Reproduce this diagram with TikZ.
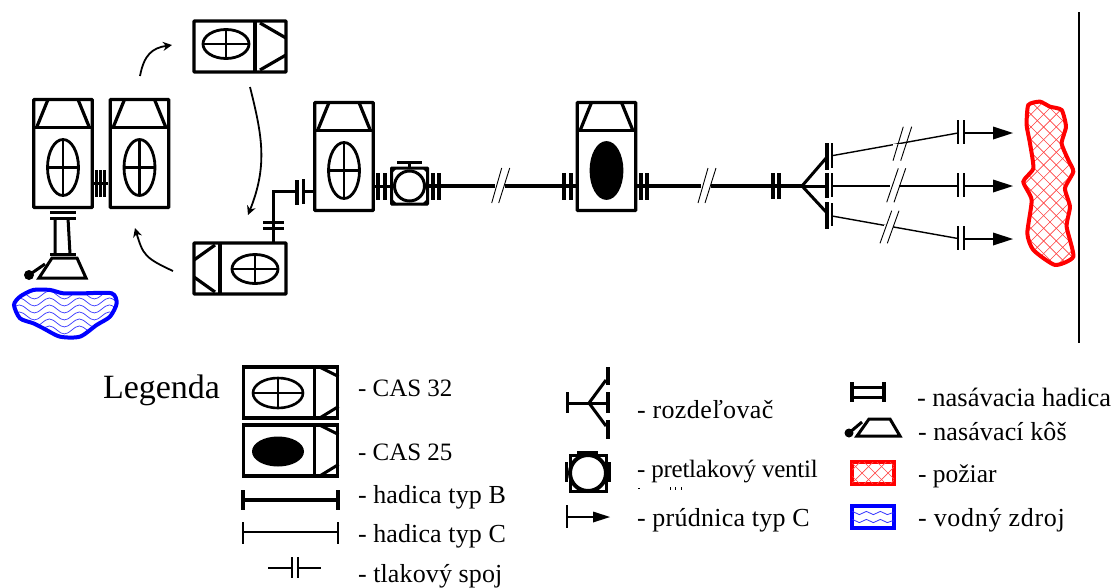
\documentclass[tikz,border=0pt]{standalone}
\usepackage{fontspec}
\setmainfont{Liberation Serif}
\usetikzlibrary{arrows.meta,decorations.pathmorphing}
\definecolor{pureblue}{RGB}{0,0,255}
\definecolor{purered}{RGB}{255,0,0}
\newcommand{\lsp}[1]{\addfontfeatures{LetterSpace=#1}}
\newcommand{\fsz}[1]{\fontsize{#1}{#1}\selectfont}
\tikzset{
  heavy/.style={line width=3.7pt},
  medium/.style={line width=3pt},
  fine/.style={line width=1.4pt},
  vbox/.style={draw,line width=3.2pt,rounded corners=.6pt,minimum width=58.5pt,minimum height=108pt,inner sep=0pt,outer sep=0pt},
  hbox/.style={draw,line width=3.2pt,rounded corners=.6pt,minimum width=92pt,minimum height=51pt,inner sep=0pt,outer sep=0pt},
  lbox/.style={draw,line width=3.6pt,minimum width=94pt,minimum height=51pt,inner sep=0pt,outer sep=0pt},
  lbl/.style={anchor=base west,inner sep=0pt,outer sep=0pt,font=\fontsize{25}{28}\selectfont},
  flow/.style={line width=1.8pt,-{Stealth[length=9pt,width=9pt]}},
  nozzle/.style={fill=black,draw=none},
  point/.style={inner sep=0pt,minimum size=0pt}
}
% vertical truck detail: #1 node, #2 ellipse fill
\newcommand{\truckV}[2]{%
  \begin{scope}[shift={(#1.center)}]
    \draw[line width=3.2pt] (-29.5,-26) -- (29.5,-26);
    \draw[line width=3.2pt] (-26,-27) -- (-15,-54);
    \draw[line width=3.2pt] (26,-27) -- (15,-54);
    \filldraw[line width=2.8pt,fill=#2] (0,14) ellipse (15.5pt and 28pt);
    \draw[line width=2.6pt] (-15,14) -- (15,14) (0,-14) -- (0,42);
  \end{scope}}
% horizontal truck detail: #1 node, #2 direction (1 cab right, -1 cab left), #3 divider, #4 ellipse x, #5 half height, #6 ellipse y
\newcommand{\truckH}[6]{%
  \begin{scope}[shift={(#1.center)},xscale=#2]
    \draw[line width=3.2pt] (#3,-#5) -- (#3,#5);
    \draw[line width=3.2pt] (#3+5,-#5+2) -- (46,-#5+17);
    \draw[line width=3.2pt] (#3+5,#5-2) -- (46,#5-17);
    \draw[line width=2.8pt] (#4,#6) ellipse (23pt and 14.5pt);
    \draw[line width=2.6pt] (#4-23,#6) -- (#4+23,#6) (#4,#6-14.5) -- (#4,#6+14.5);
  \end{scope}}
\begin{document}
\begin{tikzpicture}[x=1pt,y=-1pt]
\useasboundingbox[fill=white] (0,0) rectangle (1115,587);

% water source
\begin{scope}[shift={(0,0)},x=0.3333pt,y=-0.3333pt]
  \def\blobW{plot[smooth cycle,tension=.45] coordinates {(42,915) (60,890) (100,870) (150,870) (190,880) (250,880) (335,880) (350,910) (330,950) (290,975) (240,1010) (180,1010) (130,985) (100,970) (60,955)}}
  \begin{scope}
    \clip \blobW;
    \foreach \yy in {885,906,...,1010}
      \draw[pureblue!80,line width=.7pt,decorate,decoration={snake,segment length=30,amplitude=4}] (30,\yy) -- (360,\yy);
  \end{scope}
  \draw[pureblue,line width=4pt] \blobW;
\end{scope}

% fire
\begin{scope}[shift={(740,0)},x=0.3333pt,y=-0.3333pt]
  \def\blobF{plot[smooth cycle,tension=.35] coordinates {(865,315) (900,305) (930,320) (965,330) (978,380) (965,430) (985,480) (1000,515) (975,565) (990,620) (980,680) (1000,770) (945,795) (880,750) (862,700) (875,600) (850,545) (880,505) (870,430) (860,375)}}
  \begin{scope}
    \clip \blobF;
    \foreach \k in {0,38,...,1000} {
      \draw[purered!75,line width=.6pt] (820,300+\k-200) -- (1040,520+\k-200);
      \draw[purered!75,line width=.6pt] (1040,300+\k-200) -- (820,520+\k-200);
    }
  \end{scope}
  \draw[purered,line width=4pt] \blobF;
\end{scope}

% trucks
\node[vbox] (t1) at (63,153.5) {};
\node[vbox] (t2) at (139.5,153.5) {};
\node[hbox] (t3) at (240,46.5) {};
\node[hbox] (t4) at (240,268.5) {};
\node[vbox] (t5) at (344,156.5) {};
\node[vbox] (t6) at (606.5,156.5) {};
\truckV{t1}{white}
\truckV{t2}{white}
\truckV{t5}{white}
\truckV{t6}{black}
\truckH{t3}{1}{15}{-14}{25.5}{-2.5}
\truckH{t4}{-1}{20}{-15}{25.5}{0.5}

% curved moves
\coordinate (m1a) at (140,76); \coordinate (m1b) at (172,45);
\coordinate (m2a) at (250,87); \coordinate (m2b) at (248,215);
\coordinate (m3a) at (173,271); \coordinate (m3b) at (135,228);
\draw[flow] (m1a) .. controls (144,55) and (152,48) .. (m1b);
\draw[flow] (m2a) .. controls (262,135) and (268,165) .. (m2b);
\draw[flow] (m3a) .. controls (145,258) and (143,255) .. (m3b);

% t1-t2 coupling
\coordinate (c12) at (100,183);
\draw[medium] (93,183) -- (108,183);
\draw[medium] (96.5,170) -- (96.5,197) (100.5,170) -- (100.5,197) (104.5,170) -- (104.5,197);

% suction hose and basket
\coordinate (s1) at (63,218); \coordinate (s2) at (63,254);
\draw[medium] (50,212) -- (76,212);
\draw[medium] (50,218) -- (76,218);
\draw[medium] (55,218) -- (55,254) (68,218) -- (70,254);
\draw[medium] (50,254) -- (76,254);
\draw[medium] (52,258) -- (77,258) -- (86,278) -- (39,278) -- cycle;
\fill (29,275) circle (5pt);
\draw[medium] (29,275) -- (45,264);

% feed from t4 to t5
\coordinate (f1) at (273,191);
\coordinate (f2) at (297,191);
\draw[medium] (t4.north -| f1) -- (f1) -- (f2);
\draw[heavy] (297,180) -- (297,205);
\draw[medium] (263,222) -- (284,222) (263,228) -- (284,228);
\coordinate (f3) at (303,191);
\draw[medium] (f3) -- (t5.west |- f3);
\draw[medium] (303,179) -- (303,204);

% main line
\coordinate (v1) at (378,186);
\draw[medium] (t5.east |- v1) -- (391,186);
\draw[heavy] (378,173) -- (378,200) (385,173) -- (385,200);
\node[draw,line width=3pt,minimum width=36pt,minimum height=36pt,inner sep=0pt,outer sep=0pt,rounded corners=.5pt] (valve) at (409.5,186) {};
\draw[line width=3pt,fill=white] (valve.center) circle (15pt);
\fill (391,167) -- (398,167) -- (391,174) -- cycle (428,167) -- (421,167) -- (428,174) -- cycle (391,205) -- (398,205) -- (391,198) -- cycle (428,205) -- (421,205) -- (428,198) -- cycle;
\draw[medium] (397,162) -- (422,162) (409.5,162) -- (valve.north);
\draw[heavy] (433,173) -- (433,200) (439,173) -- (439,200);
\draw[heavy] (valve.east) -- (t6.west |- valve.east);
\draw[heavy] (564,173) -- (564,200) (571,173) -- (571,200);
\draw[heavy] (641,173) -- (641,200) (647,173) -- (647,200);
\coordinate (sp) at (802,186);
\draw[heavy] (t6.east |- sp) -- (sp);
\draw[heavy] (773,173) -- (773,199) (779,173) -- (779,199);

% hose breaks
\foreach \x/\y in {501.7/186,708/186} {
  \fill[white] (\x-7,\y-2.5) rectangle (\x+3,\y+2.5);
  \draw[line width=.9pt] (\x+0,\y-18) -- (\x-10,\y+17) (\x+8,\y-18) -- (\x-3,\y+17);
}

% splitter
\coordinate (bt) at (827,157); \coordinate (bm) at (827,186); \coordinate (bb) at (827,213);
\draw[medium] (sp) -- (bm);
\draw[medium] (sp) -- (bt);
\draw[medium] (sp) -- (bb);
\draw[heavy] (827,143) -- (827,170) (827,173) -- (827,198) (827,202) -- (827,229);
\draw[fine] (832,143) -- (832,168) (832,173) -- (832,197) (832,203) -- (832,226);

% C hoses, couplings, nozzles
\coordinate (h1) at (832,155.7); \coordinate (n1) at (958,133);
\coordinate (h2) at (832,186);   \coordinate (n2) at (958,186);
\coordinate (h3) at (832,216);   \coordinate (n3) at (958,238.5);
\draw[fine] (h1) -- (n1);
\draw[fine] (h2) -- (n2);
\draw[fine] (h3) -- (n3);
\foreach \xa/\ya/\xb/\yb/\xc/\yc/\xd/\yd/\gx/\gy in {
  903.3/126.7/893/160.7/911.7/126.7/900.7/160.7/899/145.5,
  898.3/168.3/886.7/202.3/905.7/168.3/894/202.3/896/186,
  891.7/210.7/880/243.3/899/210.7/887.3/243.3/889.5/227} {
  \fill[white] (\gx-6,\gy-2) rectangle (\gx+3,\gy+2);
  \draw[line width=.9pt] (\xa,\ya) -- (\xb,\yb) (\xc,\yc) -- (\xd,\yd);
}
\foreach \yy/\nm in {133/a,186/b,239/c} {
  \draw[fine] (958,\yy-13) -- (958,\yy+11) (964,\yy-13) -- (964,\yy+11);
  \coordinate (tip\nm) at (1013,\yy);
  \draw[fine] (964,\yy) -- (994,\yy);
  \fill[nozzle] (993,\yy-6.5) -- (tip\nm) -- (993,\yy+6.5) -- cycle;
}

% wall
\coordinate (w1) at (1079,12); \coordinate (w2) at (1079,343);
\draw[line width=1.6pt] (w1) -- (w2);

% legend left
\node[lbl,font=\fontsize{34}{37}\selectfont] (lg) at (103,398) {Legenda};
\node[lbox] (k1) at (290.5,392.5) {};
\node[lbox] (k2) at (290.5,450.5) {};
\begin{scope}[shift={(k1.center)}]
  \draw[line width=3pt] (24,-26) -- (24,26);
  \draw[line width=3pt] (30,-25) -- (48,-16) (30,25) -- (48,14);
  \draw[line width=2.6pt] (-12.5,0.5) ellipse (25pt and 15pt);
  \draw[line width=2.6pt] (-37.5,.5) -- (12.5,.5) (-12.5,-14.5) -- (-12.5,15.5);
\end{scope}
\begin{scope}[shift={(k2.center)}]
  \draw[line width=3pt] (24,-26) -- (24,26);
  \draw[line width=3pt] (30,-25) -- (48,-16) (30,25) -- (48,14);
  \fill (-12.5,1) ellipse (26pt and 15pt);
\end{scope}
\node[lbl] (ta) at (358,396) {- CAS 32};
\node[lbl] (tb) at (358,460) {- CAS 25};
\coordinate (ba) at (243,500); \coordinate (bz) at (338,500);
\draw[heavy] (ba) -- (bz);
\draw[heavy] (243,490) -- (243,510) (338,490) -- (338,510);
\node[lbl] (tc) at (358,503) {\fsz{26}\lsp{.5}- hadica typ B};
\coordinate (ca) at (243,532); \coordinate (cz) at (338,532);
\draw[fine] (ca) -- (cz);
\draw[fine] (243,522) -- (243,544) (338,522) -- (338,544);
\node[lbl] (td) at (358,542) {\fsz{26}\lsp{.5}- hadica typ C};
\coordinate (da) at (268,568); \coordinate (db) at (292,568);
\coordinate (dc) at (298,568); \coordinate (dd) at (321,568);
\draw[fine] (da) -- (db) (292,557) -- (292,578);
\draw[fine] (dc) -- (dd) (298,557) -- (298,578);
\node[lbl] (te) at (358,582) {\fsz{26}\lsp{.5}- tlakový spoj};

% legend middle
\coordinate (ks) at (567,403); \coordinate (kn) at (589,403);
\draw[medium] (567,392) -- (567,413);
\draw[medium] (ks) -- (608,403);
\draw[medium] (kn) -- (606,380) (kn) -- (606,426);
\draw[heavy] (608,367) -- (608,385) (608,392) -- (608,413) (608,420) -- (608,439);
\node[lbl] (tf) at (637,418) {\fsz{26}\lsp{1.5}- rozdeľovač};
\node[draw,line width=3pt,minimum width=36pt,minimum height=36pt,inner sep=0pt,outer sep=0pt] (kv) at (588,473) {};
\draw[heavy] (566.5,462) -- (566.5,482) (609.5,462) -- (609.5,482);
\draw[line width=3.6pt] (577,453) -- (598,453);
\draw[line width=4pt,fill=white] (kv.center) circle (18pt);
\node[lbl] (tg) at (637,477) {\lsp{-1}- pretlakový ventil};
\draw[line width=.9pt] (638,488) -- (640,488) (670,487) -- (670,490) (675,487) -- (675,490) (681,487) -- (681,490);
\coordinate (na) at (567,517); \coordinate (nt) at (610,517);
\draw[fine] (567,505) -- (567,528) (na) -- (594,517);
\fill[nozzle] (593,511.5) -- (nt) -- (593,522.5) -- cycle;
\node[lbl] (th) at (637,526) {\fsz{26}\lsp{1}- prúdnica typ C};

% legend right
\coordinate (sa) at (852,392); \coordinate (sb) at (884,392);
\draw[heavy] (852,382) -- (852,402) (884,382) -- (884,402);
\draw[medium] (852,387) -- (884,387) (852,397) -- (884,397);
\node[lbl] (ti) at (917,406) {\fsz{26.5}- nasávacia hadica};
\draw[medium] (869,419) -- (890,419) -- (900,436) -- (857,436) -- cycle;
\fill (849,433) circle (4.5pt);
\draw[medium] (849,433) -- (862,422);
\node[lbl] (tj) at (918,440) {\fsz{26}\lsp{.5}- nasávací kôš};
\node[draw=purered,line width=4.4pt,minimum width=41.5pt,minimum height=21.5pt,inner sep=0pt,outer sep=0pt] (kf) at (873,473) {};
\begin{scope}
  \clip (kf.south west) rectangle (kf.north east);
  \foreach \k in {836,849,...,900} {
    \draw[purered!70,line width=.7pt] (\k,460) -- (\k+26,486);
    \draw[purered!70,line width=.7pt] (\k+26,460) -- (\k,486);
  }
\end{scope}
\node[lbl] (tk) at (918,482) {\fsz{25.5}- požiar};
\node[draw=pureblue,line width=4.4pt,minimum width=41.5pt,minimum height=21.5pt,inner sep=0pt,outer sep=0pt] (kw) at (873,517) {};
\begin{scope}
  \clip (kw.south west) rectangle (kw.north east);
  \foreach \yy in {513,521}
    \draw[pureblue!80,line width=.8pt,decorate,decoration={snake,segment length=14,amplitude=1.6}] (848,\yy) -- (898,\yy);
\end{scope}
\node[lbl] (tl) at (918,526) {\fsz{26}\lsp{2.6}- vodný zdroj};
\end{tikzpicture}
\end{document}
